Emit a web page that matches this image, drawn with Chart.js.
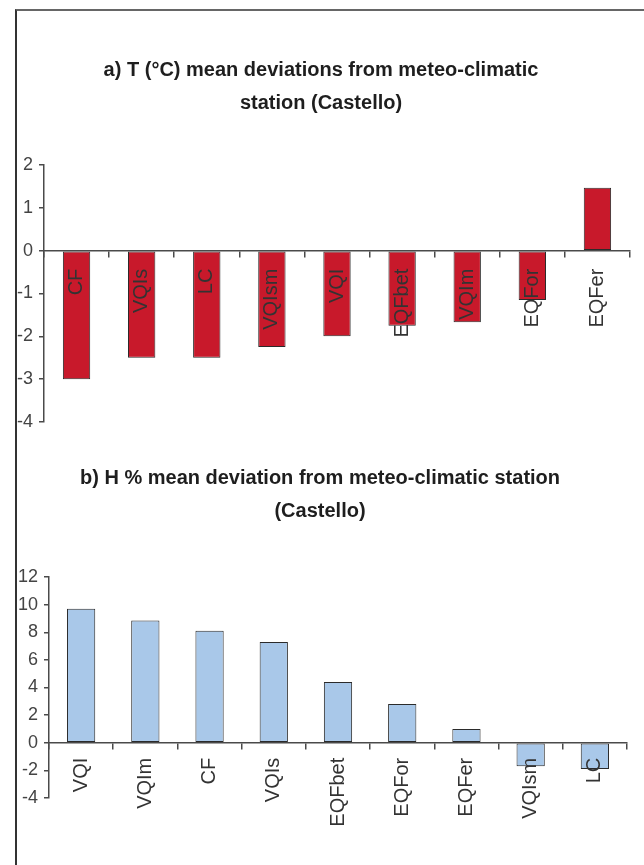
<!DOCTYPE html>
<html>
<head>
<meta charset="utf-8">
<title>Mean deviations from meteo-climatic station (Castello)</title>
<script src="https://cdn.jsdelivr.net/npm/chart.js@4.4.1/dist/chart.umd.min.js"></script>
<style>
  html, body { margin: 0; padding: 0; background: #fff; overflow: hidden; }
  #page { position: relative; width: 644px; height: 865px; }
  #frame {
    position: absolute; left: 15px; top: 9px; width: 640px; height: 870px;
    border-left: 2px solid #333; border-top: 2px solid #666;
  }
  #tempBox { position: absolute; left: 12px; top: 0; width: 632px; height: 450px; }
  #humBox { position: absolute; left: 13px; top: 450px; width: 631px; height: 415px; }
</style>
</head>
<body>
<div id="page">
  <div id="frame"></div>
  <div id="tempBox"><canvas id="tempChart"></canvas></div>
  <div id="humBox"><canvas id="humChart"></canvas></div>
</div>
<script>
// a) temperature deviations (°C)
const tempSites = ['CF', 'VQIs', 'LC', 'VQIsm', 'VQI', 'EQFbet', 'VQIm', 'EQFor', 'EQFer'];
const tempDeviation = [-3.0, -2.5, -2.5, -2.25, -2.0, -1.75, -1.67, -1.15, 1.47];
const tempTicks = [-4, 2, 1];   // min, max, step

// b) relative humidity deviations (%)
const humSites = ['VQI', 'VQIm', 'CF', 'VQIs', 'EQFbet', 'EQFor', 'EQFer', 'VQIsm', 'LC'];
const humDeviation = [9.7, 8.85, 8.1, 7.3, 4.4, 2.8, 1.0, -1.7, -1.9];
const humTicks = [-4, 12, 2];

const axisColor = '#4a4a4a';
const narrowFont = "'Liberation Sans Narrow', 'Arial Narrow', 'Liberation Sans', Arial, sans-serif";
const plainFont = "'Liberation Sans', Arial, sans-serif";

Chart.defaults.animation = false;
Chart.defaults.responsive = true;
Chart.defaults.maintainAspectRatio = false;

function makeChart(canvasId, opts) {
    return new Chart(document.getElementById(canvasId), {
        type: 'bar',
        data: {
            labels: opts.labels,
            datasets: [{
                data: opts.values,
                backgroundColor: opts.color,
                borderColor: '#2b2b2b',
                borderWidth: 1,
                borderSkipped: false,
                categoryPercentage: 1,
                barPercentage: opts.barPct
            }]
        },
        options: {
            devicePixelRatio: 1,
            layout: { padding: opts.padding },
            plugins: {
                legend: { display: false },
                tooltip: { enabled: false },
                title: {
                    display: true,
                    text: opts.title,
                    color: '#1e1e1e',
                    font: { family: plainFont, size: 20, weight: 'bold', lineHeight: '33px' },
                    padding: opts.titlePad
                }
            },
            scales: {
                x: {
                    position: { y: 0 },
                    offset: true,
                    afterFit: (scale) => { scale.height = 0; },
                    grid: {
                        drawOnChartArea: false,
                        drawTicks: true,
                        tickLength: 6,
                        offset: true,
                        color: axisColor,
                        lineWidth: 1.5
                    },
                    border: { display: true, color: axisColor, width: 1.5, z: 1 },
                    ticks: {
                        z: 1,   // category names sit on top of the bars
                        autoSkip: false,
                        minRotation: 90,
                        maxRotation: 90,
                        padding: opts.labelPad,
                        color: '#333',
                        font: { family: plainFont, size: 20 }
                    }
                },
                y: {
                    min: opts.ticks[0],
                    max: opts.ticks[1],
                    afterFit: (scale) => { scale.width = opts.axisWidth; },
                    grid: {
                        drawOnChartArea: false,
                        drawTicks: true,
                        tickLength: 5,
                        color: axisColor,
                        lineWidth: 1.5
                    },
                    border: { display: true, color: axisColor, width: 1.5 },
                    ticks: {
                        stepSize: opts.ticks[2],
                        padding: 6,
                        color: '#444',
                        font: { family: narrowFont, size: 18 }
                    }
                }
            }
        }
    });
}

makeChart('tempChart', {
    labels: tempSites,
    values: tempDeviation,
    ticks: tempTicks,
    color: '#c8192b',
    barPct: 0.42,
    title: ['a) T (°C) mean deviations from meteo-climatic', 'station (Castello)'],
    titlePad: { top: 54, bottom: 45 },
    padding: { left: 0, right: 14, top: 0, bottom: 28 },
    axisWidth: 32,
    labelPad: 12
});

makeChart('humChart', {
    labels: humSites,
    values: humDeviation,
    ticks: humTicks,
    color: '#a9c8e9',
    barPct: 0.44,
    title: ['b) H % mean deviation from meteo-climatic station', '(Castello)'],
    titlePad: { top: 12, bottom: 49 },
    padding: { left: 0, right: 17, top: 0, bottom: 67 },
    axisWidth: 36,
    labelPad: 9
});
</script>
</body>
</html>
